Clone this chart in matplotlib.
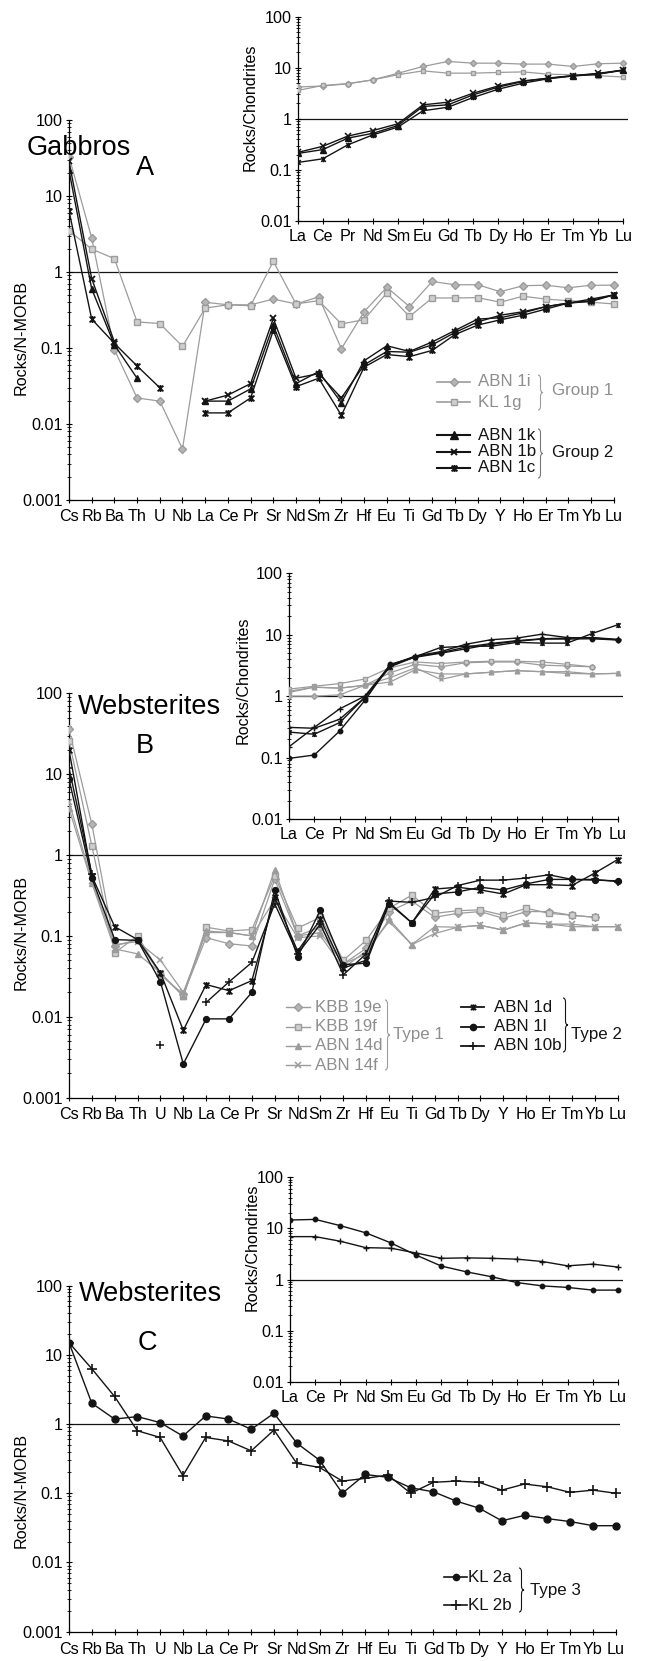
import numpy as np
import matplotlib.pyplot as plt
from matplotlib.path import Path
from matplotlib.patches import PathPatch
from matplotlib.lines import Line2D
from matplotlib.ticker import FixedLocator, LogLocator, NullFormatter, FuncFormatter

plt.rcParams['font.family'] = ['Liberation Sans', 'DejaVu Sans']

nan = np.nan

spider_el = ['Cs', 'Rb', 'Ba', 'Th', 'U', 'Nb', 'La', 'Ce', 'Pr', 'Sr', 'Nd', 'Sm', 'Zr',
             'Hf', 'Eu', 'Ti', 'Gd', 'Tb', 'Dy', 'Y', 'Ho', 'Er', 'Tm', 'Yb', 'Lu']
ree_el = ['La', 'Ce', 'Pr', 'Nd', 'Sm', 'Eu', 'Gd', 'Tb', 'Dy', 'Ho', 'Er', 'Tm', 'Yb', 'Lu']

# --- A: gabbros, N-MORB normalised ---
a_abn1i = [33, 2.8, 0.095, 0.022, 0.020, 0.0047, 0.40, 0.37, 0.37, 0.44, 0.38, 0.47, 0.098,
           0.30, 0.63, 0.35, 0.75, 0.68, 0.68, 0.55, 0.66, 0.67, 0.62, 0.67, 0.67]
a_kl1g = [3.5, 2.0, 1.5, 0.22, 0.21, 0.105, 0.335, 0.37, 0.36, 1.38, 0.38, 0.42, 0.207,
          0.236, 0.53, 0.26, 0.455, 0.455, 0.46, 0.40, 0.48, 0.44, 0.42, 0.40, 0.38]
a_abn1k = [21.7, 0.60, 0.11, 0.040, nan, nan, 0.020, 0.020, 0.029, 0.20, 0.034, 0.049, 0.019,
           0.068, 0.107, 0.090, 0.12, 0.17, 0.24, 0.25, 0.29, 0.35, 0.39, 0.44, 0.50]
a_abn1b = [28.6, 0.82, 0.12, nan, nan, nan, 0.020, 0.024, 0.034, 0.245, 0.040, 0.046, 0.022,
           0.060, 0.090, 0.088, 0.11, 0.16, 0.22, 0.27, 0.30, 0.35, 0.39, 0.42, 0.50]
a_abn1c = [6.4, 0.24, 0.115, 0.058, 0.030, nan, 0.014, 0.014, 0.022, 0.17, 0.031, 0.040, 0.013,
           0.056, 0.082, 0.077, 0.093, 0.15, 0.20, 0.235, 0.27, 0.325, 0.39, 0.41, 0.50]

# A inset: chondrite normalised REE
ai_abn1i = [4.2, 4.4, 4.85, 5.8, 7.8, 10.6, 13.3, 12.3, 12.3, 11.8, 11.8, 10.6, 12.0, 12.3]
ai_kl1g = [3.6, 4.5, 4.9, 5.8, 7.3, 8.7, 7.85, 7.85, 8.1, 8.3, 7.5, 7.3, 7.0, 6.6]
ai_abn1k = [0.21, 0.25, 0.42, 0.52, 0.74, 1.75, 1.88, 2.95, 4.17, 5.4, 6.3, 7.0, 7.6, 8.9]
ai_abn1b = [0.22, 0.29, 0.46, 0.59, 0.80, 1.88, 2.12, 3.18, 4.4, 5.55, 6.2, 7.0, 7.8, 9.0]
ai_abn1c = [0.14, 0.165, 0.31, 0.485, 0.69, 1.44, 1.69, 2.62, 3.8, 5.0, 6.1, 6.9, 7.5, 9.1]

# --- B: websterites types 1 and 2 ---
b_kbb19e = [36, 2.4, 0.075, 0.09, 0.033, 0.019, 0.095, 0.08, 0.075, 0.50, 0.10, 0.13, 0.045,
            0.07, 0.20, 0.27, 0.17, 0.19, 0.20, 0.165, 0.20, 0.20, 0.18, 0.17, nan]
b_kbb19f = [26, 1.3, 0.062, 0.10, 0.034, 0.018, 0.128, 0.115, 0.12, 0.55, 0.125, 0.17, 0.05,
            0.088, 0.22, 0.32, 0.19, 0.205, 0.21, 0.18, 0.22, 0.19, 0.18, 0.17, nan]
b_abn14d = [3.8, 0.45, 0.069, 0.06, 0.035, 0.018, 0.115, 0.11, 0.10, 0.66, 0.10, 0.11, 0.045,
            0.06, 0.16, 0.078, 0.13, 0.128, 0.135, 0.118, 0.145, 0.14, 0.13, 0.13, 0.13]
b_abn14f = [4.6, 0.48, 0.078, 0.085, 0.05, 0.02, 0.11, 0.11, 0.10, 0.28, 0.095, 0.10, 0.04,
            0.065, 0.15, 0.078, 0.107, 0.128, 0.135, 0.118, 0.145, 0.14, 0.14, 0.13, 0.13]
b_abn1d = [20, 0.55, 0.13, 0.09, 0.035, 0.0068, 0.025, 0.021, 0.028, 0.30, 0.065, 0.16, 0.04,
           0.05, 0.26, 0.145, 0.38, 0.40, 0.37, 0.33, 0.43, 0.43, 0.42, 0.60, 0.88]
b_abn1l = [8.7, 0.52, 0.09, 0.088, 0.027, 0.0026, 0.0094, 0.0094, 0.02, 0.37, 0.055, 0.21, 0.044,
           0.046, 0.25, 0.145, 0.33, 0.35, 0.40, 0.37, 0.44, 0.50, 0.50, 0.49, 0.48]
b_abn10b = [12, 0.58, nan, nan, 0.0045, nan, 0.015, 0.027, 0.047, 0.25, 0.06, 0.14, 0.033,
            0.06, 0.27, 0.26, 0.30, 0.42, 0.49, 0.49, 0.52, 0.57, 0.50, 0.50, 0.47]

bi_kbb19e = [1.0, 1.0, 1.05, 1.5, 2.4, 3.3, 3.0, 3.5, 3.6, 3.6, 3.2, 3.1, 3.0, nan]
bi_kbb19f = [1.3, 1.45, 1.6, 1.9, 2.9, 3.6, 3.4, 3.6, 3.7, 3.7, 3.6, 3.3, 3.0, nan]
bi_abn14d = [1.2, 1.4, 1.35, 1.5, 1.7, 2.7, 2.3, 2.3, 2.45, 2.6, 2.5, 2.35, 2.3, 2.35]
bi_abn14f = [1.15, 1.4, 1.35, 1.5, 2.0, 2.9, 1.87, 2.3, 2.45, 2.6, 2.5, 2.5, 2.3, 2.35]
bi_abn1d = [0.26, 0.24, 0.37, 0.95, 3.0, 4.4, 6.2, 6.5, 6.5, 7.5, 7.3, 7.3, 10.5, 14.5]
bi_abn1l = [0.097, 0.11, 0.27, 0.85, 3.3, 4.3, 5.0, 5.9, 7.0, 7.8, 8.5, 8.5, 8.6, 8.2]
bi_abn10b = [0.15, 0.31, 0.62, 1.0, 3.2, 4.5, 5.3, 7.0, 8.3, 8.8, 10.2, 9.0, 8.8, 8.3]
bi_type2_4 = [0.31, 0.30, 0.42, 0.95, 3.1, 4.4, 5.1, 6.3, 7.2, 8.0, 8.6, 8.8, 9.0, 8.4]

# --- C: websterites type 3 ---
c_kl2a = [15, 2.0, 1.18, 1.28, 1.05, 0.67, 1.31, 1.18, 0.84, 1.43, 0.53, 0.30, 0.10,
          0.187, 0.17, 0.12, 0.105, 0.077, 0.061, 0.040, 0.048, 0.043, 0.039, 0.034, 0.034]
c_kl2b = [15, 6.3, 2.5, 0.80, 0.64, 0.18, 0.64, 0.57, 0.41, 0.82, 0.27, 0.236, 0.15,
          0.164, 0.183, 0.10, 0.144, 0.15, 0.144, 0.111, 0.136, 0.124, 0.103, 0.111, 0.10]
ci_kl2a = [14.6, 15, 11.3, 8.2, 5.2, 3.0, 1.83, 1.41, 1.13, 0.87, 0.75, 0.70, 0.62, 0.62]
ci_kl2b = [6.9, 6.9, 5.6, 4.2, 4.1, 3.3, 2.6, 2.65, 2.6, 2.5, 2.25, 1.85, 2.0, 1.75]

W, H = 648, 1661
BLK = '#141414'
GRY = '#9c9c9c'
GTXT = '#8e8e8e'
FS = 11.6      # tick and axis labels
LFS = 12.2     # legend text
TFS = 19.5     # panel titles

# X with a vertical bar, like the spreadsheet "star" marker
STAR = Path([(-1, -1), (1, 1), (-1, 1), (1, -1), (0, -1.2), (0, 1.2)],
            [Path.MOVETO, Path.LINETO, Path.MOVETO, Path.LINETO, Path.MOVETO, Path.LINETO])

fig = plt.figure(figsize=(W / 100, H / 100), dpi=100)


def px_box(left, right, top, bottom):
    return [left / W, 1 - bottom / H, (right - left) / W, (bottom - top) / H]


def make_axes(left, step, top, bottom, labels, ymin, xpad):
    n = len(labels)
    right = left + (n - 1 + 0.2) * step
    ax = fig.add_axes(px_box(left, right, top, bottom))
    ax.set_yscale('log')
    ax.set_ylim(ymin, 100)
    ax.set_xlim(0, n - 1 + 0.2)
    ax.set_xticks(range(n))
    ax.set_xticklabels(labels)
    ax.spines[['top', 'right']].set_visible(False)
    ax.spines['bottom'].set_bounds(0, n - 1)
    for s in ('left', 'bottom'):
        ax.spines[s].set_linewidth(0.9)
    decades = [10.0 ** k for k in range(int(np.log10(ymin)), 3)]
    ax.yaxis.set_major_locator(FixedLocator(decades))
    ax.yaxis.set_major_formatter(FuncFormatter(lambda v, p: f'{v:g}'))
    ax.yaxis.set_minor_locator(LogLocator(base=10, subs=range(2, 10), numticks=20))
    ax.yaxis.set_minor_formatter(NullFormatter())
    ax.tick_params(which='major', direction='inout', length=5, width=0.8, labelsize=FS)
    ax.tick_params(axis='y', which='minor', direction='inout', length=2.5, width=0.6)
    ax.tick_params(axis='x', pad=xpad)
    ax.tick_params(axis='y', pad=2)
    ax.axhline(1, color=BLK, lw=0.9, zorder=1)
    ax.patch.set_alpha(0)
    return ax


def series(ax, vals, marker, color, ms, mfc=None, mew=1.0, lw=1.0):
    ax.plot(range(len(vals)), vals, color=color, lw=lw, marker=marker, ms=ms,
            mfc=mfc if mfc else color, mec=color, mew=mew, zorder=3)


def ftext(x, y, s, **kw):
    fig.text(x / W, 1 - y / H, s, **kw)


def brace(x, y_top, y_bot, color, w=5.0):
    ym = (y_top + y_bot) / 2
    d = min(4.0, (y_bot - y_top) / 6)
    pts = [(x, y_top), (x + w / 2, y_top), (x + w / 2, y_top + d), (x + w / 2, ym - d),
           (x + w / 2, ym), (x + w, ym), (x + w / 2, ym), (x + w / 2, ym + d),
           (x + w / 2, y_bot - d), (x + w / 2, y_bot), (x, y_bot)]
    codes = [Path.MOVETO, Path.CURVE3, Path.CURVE3, Path.LINETO, Path.CURVE3, Path.CURVE3,
             Path.CURVE3, Path.CURVE3, Path.LINETO, Path.CURVE3, Path.CURVE3]
    verts = [(px / W, 1 - py / H) for px, py in pts]
    fig.add_artist(PathPatch(Path(verts, codes), fc='none', ec=color, lw=0.8,
                             transform=fig.transFigure))


def entry(x0, x1, y, tx, text, marker, color, tcolor, ms, mfc=None, mew=1.0, lw=1.2):
    yy = 1 - y / H
    fig.add_artist(Line2D([x0 / W, x1 / W], [yy, yy], color=color, lw=lw,
                          transform=fig.transFigure))
    fig.add_artist(Line2D([(x0 + x1) / 2 / W], [yy], ls='none', marker=marker, ms=ms,
                          mfc=mfc if mfc else color, mec=color, mew=mew,
                          transform=fig.transFigure))
    ftext(tx, y, text, color=tcolor, fontsize=LFS, va='center', ha='left')


# ================= Panel A =================
axA = make_axes(69, 22.7, 120, 500, spider_el, 1e-3, 4)
series(axA, a_abn1i, 'D', GRY, 3.8, mfc='#b5b5b5', lw=0.9)
series(axA, a_kl1g, 's', GRY, 4.2, mfc='#cfcfcf', lw=0.9)
series(axA, a_abn1k, '^', BLK, 5.0)
series(axA, a_abn1b, 'x', BLK, 5.0, mew=1.3)
series(axA, a_abn1c, STAR, BLK, 5.0, mew=1.3)

axAi = make_axes(297.7, 25.05, 16.7, 221, ree_el, 1e-2, 3.5)
series(axAi, ai_abn1i, 'D', GRY, 3.2, mfc='#b5b5b5', lw=0.9)
series(axAi, ai_kl1g, 's', GRY, 3.4, mfc='#cfcfcf', lw=0.9)
series(axAi, ai_abn1k, '^', BLK, 4.0)
series(axAi, ai_abn1b, 'x', BLK, 4.0, mew=1.1)
series(axAi, ai_abn1c, STAR, BLK, 4.0, mew=1.1)

ftext(21, 337, 'Rocks/N-MORB', rotation=90, fontsize=FS, ha='center', va='center')
ftext(250, 107, 'Rocks/Chondrites', rotation=90, fontsize=FS, ha='center', va='center')
ftext(27, 148, 'Gabbros', fontsize=TFS, ha='left', va='center')
ftext(145, 168, 'A', fontsize=TFS, ha='center', va='center')

entry(437, 470, 382, 478, 'ABN 1i', 'D', GRY, GTXT, 4.5, mfc='#b5b5b5')
entry(437, 470, 402, 478, 'KL 1g', 's', GRY, GTXT, 5.0, mfc='#cfcfcf')
brace(538, 375, 410, GRY)
ftext(552, 390, 'Group 1', color=GTXT, fontsize=LFS, va='center')
entry(437, 470, 435, 478, 'ABN 1k', '^', BLK, BLK, 6.0, lw=1.5)
entry(437, 470, 452, 478, 'ABN 1b', 'x', BLK, BLK, 5.0, mew=1.4, lw=1.5)
entry(437, 470, 468, 478, 'ABN 1c', STAR, BLK, BLK, 5.0, mew=1.4, lw=1.5)
brace(538, 429, 478, '#777777')
ftext(552, 452, 'Group 2', color=BLK, fontsize=LFS, va='center')

# ================= Panel B =================
axB = make_axes(69, 22.86, 693.5, 1097.5, spider_el, 1e-3, 4)
series(axB, b_kbb19e, 'D', GRY, 3.6, mfc='#b5b5b5', lw=0.9)
series(axB, b_kbb19f, 's', GRY, 4.0, mfc='#cfcfcf', lw=0.9)
series(axB, b_abn14d, '^', GRY, 4.5, lw=0.9)
series(axB, b_abn14f, 'x', GRY, 4.5, mew=1.1, lw=0.9)
series(axB, b_abn1d, STAR, BLK, 5.0, mew=1.3)
series(axB, b_abn1l, 'o', BLK, 4.2)
series(axB, b_abn10b, '+', BLK, 6.0, mew=1.1)

axBi = make_axes(289, 25.28, 573.3, 819, ree_el, 1e-2, 3.5)
series(axBi, bi_kbb19e, 'D', GRY, 3.0, mfc='#b5b5b5', lw=0.9)
series(axBi, bi_kbb19f, 's', GRY, 3.2, mfc='#cfcfcf', lw=0.9)
series(axBi, bi_abn14d, '^', GRY, 3.4, lw=0.9)
series(axBi, bi_abn14f, 'x', GRY, 3.4, mew=1.0, lw=0.9)
series(axBi, bi_type2_4, '+', BLK, 4.0, mew=1.0)
series(axBi, bi_abn1d, STAR, BLK, 3.8, mew=1.1)
series(axBi, bi_abn1l, 'o', BLK, 3.2)
series(axBi, bi_abn10b, '+', BLK, 4.5, mew=1.0)

ftext(21, 932, 'Rocks/N-MORB', rotation=90, fontsize=FS, ha='center', va='center')
ftext(243, 680, 'Rocks/Chondrites', rotation=90, fontsize=FS, ha='center', va='center')
ftext(78, 707, 'Websterites', fontsize=TFS, ha='left', va='center')
ftext(145, 746, 'B', fontsize=TFS, ha='center', va='center')

entry(286, 310, 1007, 315, 'KBB 19e', 'D', GRY, GTXT, 3.8, mfc='#b5b5b5', lw=1.0)
entry(286, 310, 1026.5, 315, 'KBB 19f', 's', GRY, GTXT, 4.0, mfc='#cfcfcf', lw=1.0)
entry(286, 310, 1046, 315, 'ABN 14d', '^', GRY, GTXT, 4.2, lw=1.0)
entry(286, 310, 1065, 315, 'ABN 14f', 'x', GRY, GTXT, 4.2, mew=1.1, lw=1.0)
brace(385, 1000, 1070, GRY)
ftext(393, 1034, 'Type 1', color=GTXT, fontsize=LFS, va='center')
entry(461, 484, 1007, 494, 'ABN 1d', STAR, BLK, BLK, 4.5, mew=1.3, lw=1.3)
entry(461, 484, 1026.5, 494, 'ABN 1l', 'o', BLK, BLK, 4.5, lw=1.3)
entry(461, 484, 1046, 494, 'ABN 10b', '+', BLK, BLK, 6.0, mew=1.2, lw=1.3)
brace(563, 998, 1052, BLK)
ftext(571, 1034, 'Type 2', color=BLK, fontsize=LFS, va='center')

# ================= Panel C =================
axC = make_axes(69, 22.78, 1285.6, 1631.7, spider_el, 1e-3, 5)
series(axC, c_kl2a, 'o', BLK, 5.0)
series(axC, c_kl2b, '+', BLK, 7.0, mew=1.2)

axCi = make_axes(290, 25.23, 1177.3, 1381.7, ree_el, 1e-2, 3.5)
series(axCi, ci_kl2a, 'o', BLK, 3.2)
series(axCi, ci_kl2b, '+', BLK, 5.0, mew=1.0)

ftext(21, 1490, 'Rocks/N-MORB', rotation=90, fontsize=FS, ha='center', va='center')
ftext(252, 1247, 'Rocks/Chondrites', rotation=90, fontsize=FS, ha='center', va='center')
ftext(79, 1294, 'Websterites', fontsize=TFS, ha='left', va='center')
ftext(147, 1343, 'C', fontsize=TFS, ha='center', va='center')

entry(444, 467, 1577, 468, 'KL 2a', 'o', BLK, BLK, 4.5)
entry(444, 467, 1605, 468, 'KL 2b', '+', BLK, BLK, 7.0, mew=1.2)
brace(519, 1568, 1612, BLK)
ftext(530, 1590, 'Type 3', color=BLK, fontsize=LFS, va='center')

fig.savefig('out.png', dpi=100)
